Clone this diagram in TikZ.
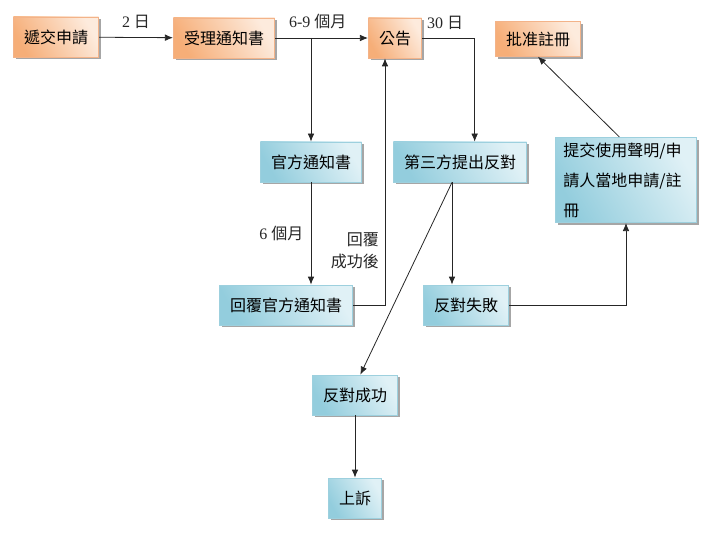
\documentclass[tikz,border=0pt]{standalone}
\usepackage{fontspec}
\setmainfont{Liberation Serif}
\newfontfamily\cjk{Noto Sans CJK TC}
\usetikzlibrary{arrows.meta, shadows}
\tikzset{>={Latex[length=6pt,width=5pt]}}

\definecolor{orangeDark}{HTML}{F6AE78}
\definecolor{orangeLight}{HTML}{FDEBDD}
\definecolor{orangeBorder}{HTML}{F3B389}
\definecolor{blueDark}{HTML}{93CDDD}
\definecolor{blueLight}{HTML}{E0F1F6}
\definecolor{blueBorder}{HTML}{9DD0DE}

\tikzset{
  orangebox/.style={draw=orangeBorder, line width=0.6pt, left color=orangeDark, right color=orangeLight, shading angle=120,
    drop shadow={shadow xshift=1.8pt, shadow yshift=-1.8pt, fill=black!35, opacity=1},
    minimum height=30pt, inner xsep=8pt, font=\cjk\fontsize{12}{14}\selectfont},
  bluebox/.style={draw=blueBorder, line width=0.6pt, left color=blueDark, right color=blueLight, shading angle=120,
    drop shadow={shadow xshift=1.8pt, shadow yshift=-1.8pt, fill=black!35, opacity=1},
    minimum height=30pt, inner xsep=8pt, font=\cjk\fontsize{12}{14}\selectfont},
  conn/.style={->, line width=0.6pt, black!85},
  lbl/.style={font=\fontsize{12}{15}\selectfont}
}

\begin{document}
\begin{tikzpicture}[x=0.75pt, y=-0.75pt]
    \useasboundingbox (0,0) rectangle (722,535);
    % top row
    \node [orangebox] (submit) at (56,37) {遞交申請};
    \node [orangebox] (receipt) at (224,38) {受理通知書};
    \node [orangebox] (notice) at (395,38) {公告};
    \node [orangebox, minimum height=26pt] (approve) at (538,39) {批准註冊};
    % blue boxes
    \node [bluebox] (office) at (311,162) {官方通知書};
    \node [bluebox] (third) at (460,162) {第三方提出反對};
    \node [bluebox, align=left, inner xsep=6pt, text width=94pt, minimum height=64pt, font=\cjk\fontsize{12}{22.5}\selectfont] (apply) at (626,180) {提交使用聲明/申\\請人當地申請/註\\冊};
    \node [bluebox] (reply) at (286,305) {回覆官方通知書};
    \node [bluebox] (fail) at (466,305) {反對失敗};
    \node [bluebox] (success) at (355,395) {反對成功};
    \node [bluebox] (appeal) at (355,498) {上訴};
    % connectors
    \draw [conn] (submit) -- (receipt) node [lbl, midway, above=3pt] {2 {\cjk 日}};
    \draw [conn] (receipt) -- (notice) node [lbl, pos=0.46, above=3pt] {6-9 {\cjk 個月}};
    \draw [conn] (office.north |- receipt.east) -- (office);
    \draw [conn] (notice) -| ([xshift=11pt]third.north) node [lbl, pos=0.22, above=3pt] {30 {\cjk 日}};
    \draw [conn] (office) -- (office |- reply.north) node [lbl, midway, left=2pt] {6 {\cjk 個月}};
    \draw [conn] (reply) -| ([xshift=-7.5pt]notice.south) node [lbl, pos=0.61, left=1pt, align=right, font=\cjk\fontsize{12}{17}\selectfont] {回覆\\成功後};
    \coordinate (split) at ([xshift=-6pt]third.south);
    \draw [conn] (split) -- (split |- fail.north);
    \draw [conn] (split) -- ([xshift=4pt]success.north);
    \draw [conn] (fail) -| (apply);
    \draw [conn] ([xshift=-5pt]apply.north) -- (approve.south);
    \draw [conn] (success) -- (appeal);
\end{tikzpicture}
\end{document}
